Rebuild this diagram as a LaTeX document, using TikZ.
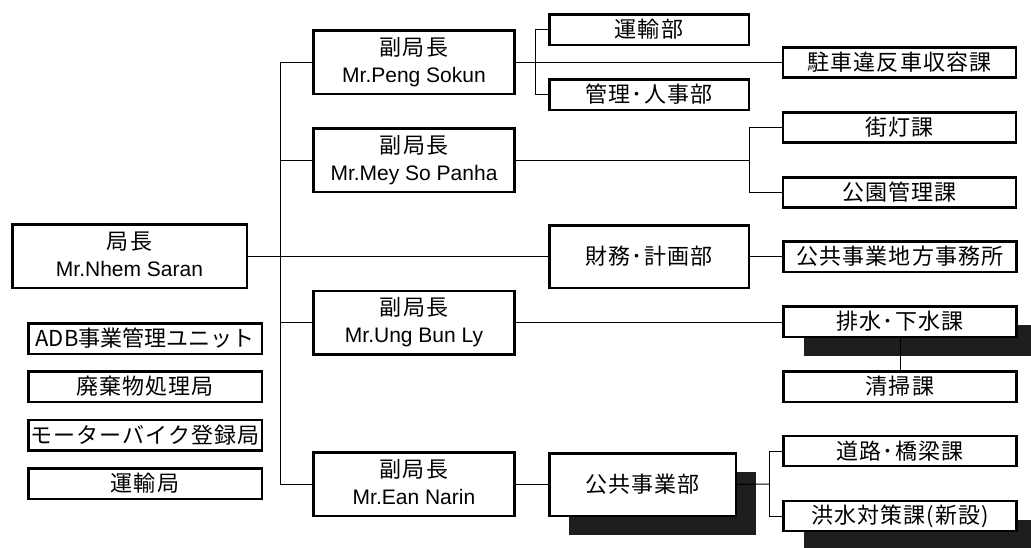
\documentclass[tikz,border=0pt]{standalone}
\usepackage{fontspec}
\setmainfont{Liberation Sans}
\newfontfamily\jp{Noto Sans CJK JP}[LetterSpace=5]
\newfontfamily\jptight{Noto Sans CJK JP}
\usetikzlibrary{shadows}
\definecolor{shadecol}{HTML}{1E1E1E}
\newcommand\twoline[2]{\rule{0pt}{18pt}{\jp\fontsize{22}{27}\selectfont #1}\\\rule[-5pt]{0pt}{5pt}#2}
\tikzset{
  box/.style={draw, line width=2.5pt, fill=white, inner sep=0pt, align=center,
    font=\jp\fontsize{22}{26}\selectfont},
  big/.style={box, font=\fontsize{21}{27}\selectfont},
  shd/.style={general shadow={fill=shadecol, shadow xshift=20pt, shadow yshift=-19pt}},
  conn/.style={line width=1pt},
  leftbox/.style={box, minimum width=233.5pt, minimum height=30.5pt},
  vicebox/.style={big, minimum width=201pt, minimum height=63.5pt},
  midbox/.style={box, minimum width=199.5pt, minimum height=30.5pt},
  rightbox/.style={box, minimum width=233pt, minimum height=30pt},
}
\begin{document}
\begin{tikzpicture}[x=1pt,y=-1pt]
\path[use as bounding box, clip] (0,0) rectangle (1031,547);
\fill[white] (0,0) rectangle (1031,547);

% coordinates for branch points
\coordinate (t1) at (280,62);
\coordinate (b1) at (535,62);
\coordinate (b2) at (749,160);
\coordinate (b3) at (769,484);

% boxes
\node[big, minimum width=234.5pt, minimum height=63.5pt] (chief) at (129.5,256) {\twoline{局長}{Mr.Nhem Saran}};
\node[leftbox, font=\jptight\fontsize{22}{26}\selectfont] (adb) at (145,338.5) {ADB事業管理ユニット};
\node[leftbox] (waste) at (145,386.5) {廃棄物処理局};
\node[leftbox] (moto) at (145,435) {モーターバイク登録局};
\node[leftbox] (trans) at (145,483.5) {運輸局};

\node[vicebox] (peng) at (414,62) {\twoline{副局長}{Mr.Peng Sokun}};
\node[vicebox] (mey) at (414,160) {\twoline{副局長}{Mr.Mey So Panha}};
\node[vicebox] (ung) at (414,322.5) {\twoline{副局長}{Mr.Ung Bun Ly}};
\node[vicebox] (ean) at (414,484) {\twoline{副局長}{Mr.Ean Narin}};

\node[midbox] (unyu) at (649,29.5) {運輸部};
\node[midbox] (kanri) at (649,94.5) {管理･人事部};
\node[midbox, minimum height=62.5pt] (zaimu) at (649,256.5) {財務･計画部};
\node[box, shd, minimum width=186.5pt, minimum height=62.5pt] (kokyo) at (642.5,484.5) {公共事業部};

\node[rightbox] (chusha) at (899.5,62.5) {駐車違反車収容課};
\node[rightbox] (gaito) at (899.5,127.5) {街灯課};
\node[rightbox] (koen) at (899.5,192.5) {公園管理課};
\node[rightbox, minimum height=30.5pt] (chiho) at (900,256.5) {公共事業地方事務所};
\node[rightbox, shd, minimum height=30.5pt] (haisui) at (900,321.5) {排水･下水課};
\node[rightbox, minimum height=30.5pt] (seiso) at (900,386.5) {清掃課};
\node[rightbox] (doro) at (900,451) {道路･橋梁課};
\node[rightbox, shd] (kozui) at (900,516) {洪水対策課(新設)};

% connectors
\draw[conn] (peng.west) -- (peng.west -| t1) -- (ean.west -| t1) -- (ean.west);
\draw[conn] (mey.west) -- (mey.west -| t1);
\draw[conn] (ung.west) -- (ung.west -| t1);
\draw[conn] (chief.east) -- (chief.east -| zaimu.west);
\draw[conn] (zaimu.east) -- (zaimu.east -| chiho.west);
\draw[conn] (peng.east) -- (peng.east -| chusha.west);
\draw[conn] (unyu.west) -- (unyu.west -| b1) -- (kanri.west -| b1) -- (kanri.west);
\draw[conn] (mey.east) -- (b2);
\draw[conn] (gaito.west) -- (gaito.west -| b2) -- (koen.west -| b2) -- (koen.west);
\draw[conn] (ung.east) -- (ung.east -| haisui.west);
\draw[conn] (haisui.south) -- (seiso.north);
\draw[conn] (ean.east) -- (ean.east -| kokyo.west);
\draw[conn] (kokyo.east) -- (b3);
\draw[conn] (doro.west) -- (doro.west -| b3) -- (kozui.west -| b3) -- (kozui.west);
\end{tikzpicture}
\end{document}
